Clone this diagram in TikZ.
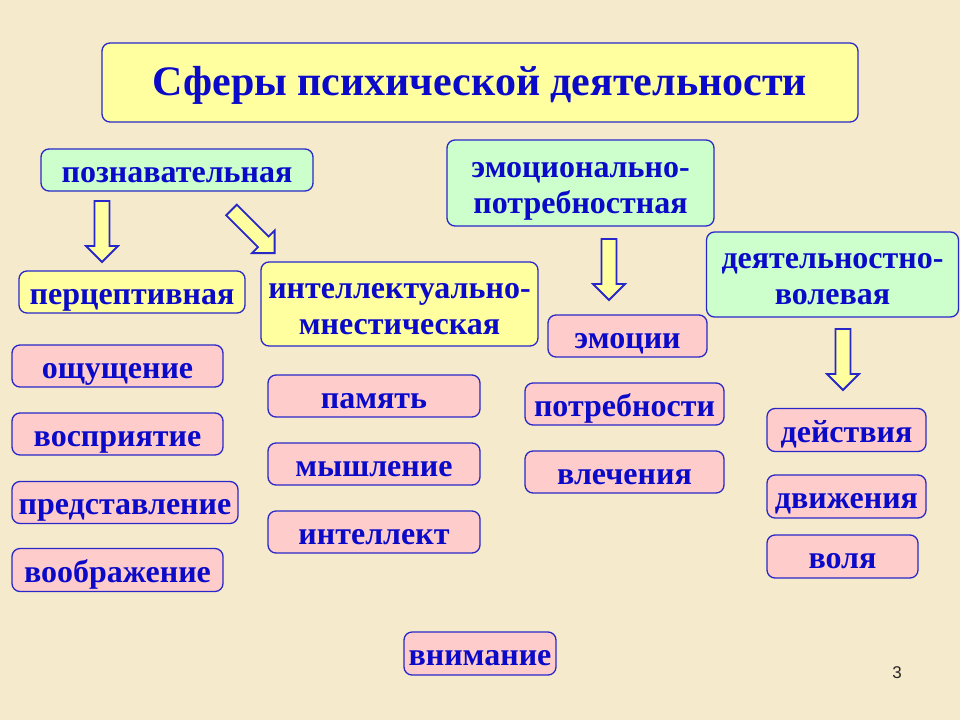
\documentclass[tikz,border=0pt]{standalone}
\usepackage{fontspec}
\setmainfont{Liberation Serif}
\newfontfamily\numfont{Liberation Sans}
\definecolor{bg}{RGB}{246,234,204}
\definecolor{txtblue}{RGB}{10,10,200}
\definecolor{edgeblue}{RGB}{40,40,200}
\definecolor{fyellow}{RGB}{255,255,160}
\definecolor{fgreen}{RGB}{204,255,204}
\definecolor{fpink}{RGB}{255,204,204}
\tikzset{
  box/.style={draw=edgeblue, line width=1.3pt, rounded corners=8pt, inner sep=0pt,
    text=txtblue, font=\fontsize{32}{36}\selectfont\bfseries, align=center},
  one/.style={text height=24pt, text depth=0pt},
  two/.style={text height=60pt, text depth=0pt},
  ybox/.style={box, fill=fyellow},
  gbox/.style={box, fill=fgreen},
  pbox/.style={box, fill=fpink, one},
  arrowstyle/.style={draw=edgeblue, fill=fyellow, line width=1.8pt, line join=miter},
  bigarrow/.pic={\draw[arrowstyle] (0,-7.5) -- (45,-7.5) -- (45,-16) -- (61,0) -- (45,16) -- (45,7.5) -- (0,7.5) -- cycle;}
}
\begin{document}
\begin{tikzpicture}[x=1pt,y=-1pt]
\fill[bg] (0,0) rectangle (960,720);
\useasboundingbox (0,0) rectangle (960,720);

\node[ybox, minimum width=756, minimum height=79, font=\fontsize{42}{46}\selectfont\bfseries, text height=25pt, text depth=0pt] (title) at (480,82.5) {Сферы психической деятельности};

\node[gbox, one, minimum width=272, minimum height=42] (pozn) at (177,170) {познавательная};
\node[gbox, two, minimum width=267, minimum height=86] (emp) at (580.5,183) {эмоционально-\\потребностная};
\node[gbox, two, minimum width=252, minimum height=85] (dv) at (832.5,274.5) {деятельностно-\\волевая};

\node[ybox, one, minimum width=226, minimum height=42] (perc) at (132,292) {перцептивная};
\node[ybox, two, minimum width=277, minimum height=84] (intm) at (399.5,304) {интеллектуально-\\мнестическая};

\node[pbox, minimum width=211, minimum height=42] (osh) at (117.5,366) {ощущение};
\node[pbox, minimum width=211, minimum height=42] (vos) at (117.5,434) {восприятие};
\node[pbox, minimum width=226, minimum height=42] (pred) at (125,502.5) {представление};
\node[pbox, minimum width=211, minimum height=43] (voob) at (117.5,570) {воображение};

\node[pbox, minimum width=212, minimum height=42] (pam) at (374,396) {память};
\node[pbox, minimum width=212, minimum height=42] (mysh) at (374,464) {мышление};
\node[pbox, minimum width=212, minimum height=42] (intl) at (374,532) {интеллект};

\node[pbox, minimum width=159, minimum height=42] (emo) at (627.5,336) {эмоции};
\node[pbox, minimum width=199, minimum height=42] (potr) at (624.5,404) {потребности};
\node[pbox, minimum width=199, minimum height=42] (vlech) at (624.5,472) {влечения};

\node[pbox, minimum width=159, minimum height=43] (deis) at (846.5,430) {действия};
\node[pbox, minimum width=159, minimum height=43] (dviz) at (846.5,496.5) {движения};
\node[pbox, minimum width=151, minimum height=43] (volya) at (842.5,556.5) {воля};

\node[pbox, minimum width=152, minimum height=43] (vnim) at (480,653.5) {внимание};

\node[font=\numfont\fontsize{17}{19}\selectfont, text=black!85] (pnum) at (897,673) {3};

\pic[rotate=-90] at (102,201) {bigarrow};
\pic[rotate=-45] at (231.5,210) {bigarrow};
\pic[rotate=-90] at (609,239) {bigarrow};
\pic[rotate=-90] at (843,329) {bigarrow};
\end{tikzpicture}
\end{document}
